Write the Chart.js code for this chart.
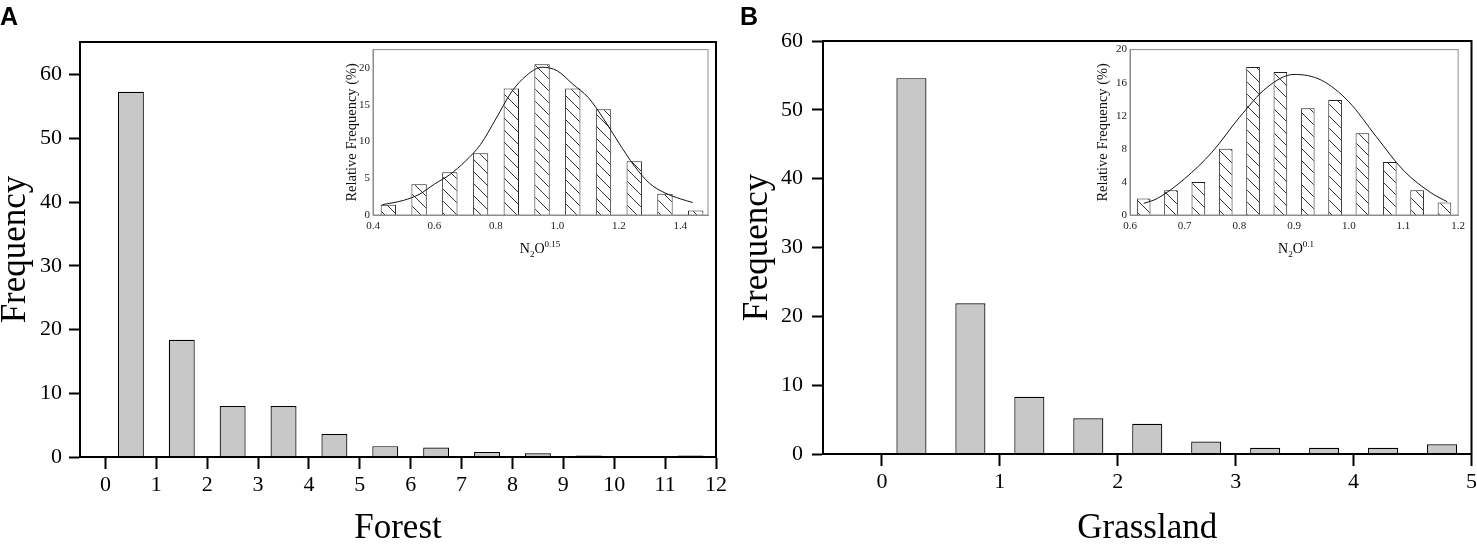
<!DOCTYPE html>
<html>
<head>
<meta charset="utf-8">
<script src="https://cdn.jsdelivr.net/npm/chart.js@4.4.1/dist/chart.umd.min.js"></script>
<style>
  html, body { margin: 0; padding: 0; background: #fff; }
  body { position: relative; width: 1477px; height: 544px; overflow: hidden; }
  .box { position: absolute; }
  .tag { position: absolute; top: 4px; font: bold 25px "Liberation Sans", Arial, sans-serif; line-height: 1; color: #000; }
  .ttl { position: absolute; width: 100px; text-align: center; font: 14px "Liberation Serif", serif; line-height: 20px; color: #000; }
  .ttl sub, .ttl sup { font-size: 9px; line-height: 0; }
</style>
</head>
<body>
<div class="box" style="left:0;top:0;width:730px;height:544px"><canvas id="forest" width="730" height="544"></canvas></div>
<div class="box" style="left:740px;top:0;width:740px;height:544px"><canvas id="grass" width="740" height="544"></canvas></div>
<div class="box" style="left:330px;top:40px;width:385px;height:200px"><canvas id="forestInset" width="385" height="200"></canvas></div>
<div class="box" style="left:1085px;top:40px;width:385px;height:200px"><canvas id="grassInset" width="385" height="200"></canvas></div>
<div class="tag" style="left:0">A</div>
<div class="tag" style="left:740px">B</div>
<div class="ttl" style="left:490px;top:239px">N<sub>2</sub>O<sup>0.15</sup></div>
<div class="ttl" style="left:1246px;top:239px">N<sub>2</sub>O<sup>0.1</sup></div>
<script>
// Forest main histogram
const forestBins = [0.5, 1.5, 2.5, 3.5, 4.5, 5.5, 6.5, 7.5, 8.5, 9.5, 10.5, 11.5];
const forestFreq = [57.3, 18.4, 8.0, 8.0, 3.6, 1.7, 1.5, 0.8, 0.6, 0.25, 0, 0.25];
const forestTicksX = [0, 1, 2, 3, 4, 5, 6, 7, 8, 9, 10, 11, 12];
const forestTicksY = [0, 10, 20, 30, 40, 50, 60];

// Grassland main histogram
const grassBins = [0.25, 0.75, 1.25, 1.75, 2.25, 2.75, 3.25, 3.75, 4.25, 4.75];
const grassFreq = [54.6, 21.9, 8.3, 5.2, 4.4, 1.8, 0.9, 0.9, 0.9, 1.4];
const grassTicksX = [0, 1, 2, 3, 4, 5];
const grassTicksY = [0, 10, 20, 30, 40, 50, 60];

// Forest inset (N2O^0.15)
const forestInsetBins = [0.45, 0.55, 0.65, 0.75, 0.85, 0.95, 1.05, 1.15, 1.25, 1.35, 1.45];
const forestInsetPct = [1.4, 4.2, 5.8, 8.4, 17.2, 20.5, 17.2, 14.4, 7.3, 2.9, 0.6];
const forestFitX = [0.43, 0.5, 0.55, 0.6, 0.65, 0.7, 0.75, 0.8, 0.85, 0.9, 0.95, 1.0, 1.05, 1.1, 1.15, 1.2, 1.25, 1.3, 1.35, 1.4, 1.44];
const forestFitY = [1.4, 2.0, 2.8, 4.2, 5.5, 7.3, 9.6, 13.1, 16.7, 19.0, 20.1, 19.6, 17.8, 16.0, 13.1, 9.8, 6.7, 4.3, 3.0, 2.2, 1.7];
const forestInsetTicksX = [0.4, 0.6, 0.8, 1.0, 1.2, 1.4];
const forestInsetTicksY = [0, 5, 10, 15, 20];

// Grassland inset (N2O^0.1)
const grassInsetBins = [0.625, 0.675, 0.725, 0.775, 0.825, 0.875, 0.925, 0.975, 1.025, 1.075, 1.125, 1.175];
const grassInsetPct = [2.0, 3.0, 4.0, 8.0, 17.9, 17.3, 12.9, 13.9, 9.9, 6.4, 3.0, 1.5];
const grassFitX = [0.625, 0.65, 0.7, 0.75, 0.8, 0.85, 0.9, 0.95, 1.0, 1.05, 1.1, 1.15, 1.18];
const grassFitY = [1.4, 2.0, 4.4, 7.6, 11.8, 15.4, 17.0, 16.3, 13.7, 9.5, 5.4, 2.7, 1.6];
const grassInsetTicksX = [0.6, 0.7, 0.8, 0.9, 1.0, 1.1, 1.2];
const grassInsetTicksY = [0, 4, 8, 12, 16, 20];

const SERIF = '"Liberation Serif", "Times New Roman", serif';

// box round the plot area
Chart.register({
  id: 'frame',
  afterDraw(chart, args, opts) {
    const { ctx, chartArea: a } = chart;
    ctx.save();
    ctx.strokeStyle = opts.color || '#000';
    ctx.lineWidth = opts.width || 1;
    ctx.strokeRect(a.left, a.top, a.right - a.left, a.bottom - a.top);
    ctx.restore();
  }
});

function points(xs, ys) {
  return xs.map((x, i) => ({ x: x, y: ys[i] }));
}

function setTicks(list) {
  return scale => { scale.ticks = list.map(v => ({ value: v })); };
}

// "\\\" hatch fill for the inset bars
function hatch() {
  const n = 12;
  const c = document.createElement('canvas');
  c.width = n; c.height = n;
  const g = c.getContext('2d');
  g.fillStyle = '#fff';
  g.fillRect(0, 0, n, n);
  g.strokeStyle = '#333';
  g.lineWidth = 1;
  g.beginPath();
  g.moveTo(0, 0); g.lineTo(n, n);
  g.moveTo(-n / 2, n / 2); g.lineTo(n / 2, n * 1.5);
  g.moveTo(n / 2, -n / 2); g.lineTo(n * 1.5, n / 2);
  g.stroke();
  return g.createPattern(c, 'repeat');
}

function mainChart(id, bins, freq, ticksX, ticksY, xMin, xMax, yMax, title, g) {
  return new Chart(document.getElementById(id), {
    type: 'bar',
    data: {
      datasets: [{
        data: points(bins, freq),
        backgroundColor: '#c8c8c8',
        borderColor: '#000',
        borderWidth: 1.2,
        barPercentage: 0.51,
        categoryPercentage: 1
      }]
    },
    options: {
      responsive: false,
      animation: false,
      layout: { padding: { left: 0, top: g.top, right: g.right, bottom: 0 } },
      plugins: { legend: { display: false }, tooltip: { enabled: false }, frame: { color: '#000', width: 2 } },
      scales: {
        x: {
          type: 'linear', min: xMin, max: xMax, offset: false,
          afterBuildTicks: setTicks(ticksX),
          afterFit: s => { s.height = g.xh; },
          grid: { offset: false, drawOnChartArea: false, tickLength: 12, tickWidth: 2, tickColor: '#000' },
          border: { color: '#000', width: 2 },
          ticks: { color: '#000', padding: 3, maxRotation: 0, font: { family: SERIF, size: 22 } },
          title: { display: true, text: title, color: '#000', padding: { top: 0, bottom: -2 }, font: { family: SERIF, size: 35, lineHeight: 1 } }
        },
        y: {
          min: 0, max: yMax,
          afterBuildTicks: setTicks(ticksY),
          afterFit: s => { s.width = g.yw; },
          grid: { drawOnChartArea: false, tickLength: 11, tickWidth: 2, tickColor: '#000' },
          border: { color: '#000', width: 2 },
          ticks: { color: '#000', padding: g.ypad, font: { family: SERIF, size: 22 } },
          title: { display: true, text: 'Frequency', color: '#000', padding: { top: g.ytitle - 17.5, bottom: 0 }, font: { family: SERIF, size: 35, lineHeight: 1 } }
        }
      }
    }
  });
}

function insetChart(id, bins, pct, fitX, fitY, ticksX, ticksY, xMin, xMax, yMax, g) {
  return new Chart(document.getElementById(id), {
    type: 'bar',
    data: {
      datasets: [{
        type: 'line',
        data: points(fitX, fitY),
        borderColor: '#111',
        borderWidth: 1,
        pointRadius: 0,
        cubicInterpolationMode: 'monotone'
      }, {
        data: points(bins, pct),
        backgroundColor: hatch(),
        borderColor: '#222',
        borderWidth: 1,
        barPercentage: 0.5,
        categoryPercentage: 1
      }]
    },
    options: {
      responsive: false,
      animation: false,
      layout: { padding: { left: 0, top: 9, right: g.right, bottom: 0 } },
      plugins: { legend: { display: false }, tooltip: { enabled: false }, frame: { color: '#8c8c8c', width: 1 } },
      scales: {
        x: {
          type: 'linear', min: xMin, max: xMax, offset: false,
          afterBuildTicks: setTicks(ticksX),
          afterFit: s => { s.height = 25; },
          grid: { display: false, drawTicks: false, offset: false },
          border: { color: '#8c8c8c', width: 1 },
          ticks: { color: '#222', padding: 5, maxRotation: 0, font: { family: SERIF, size: 11 }, callback: v => v.toFixed(1) }
        },
        y: {
          min: 0, max: yMax,
          afterBuildTicks: setTicks(ticksY),
          afterFit: s => { s.width = g.yw; },
          grid: { display: false, drawTicks: false },
          border: { color: '#8c8c8c', width: 1 },
          ticks: { color: '#222', padding: 3, font: { family: SERIF, size: 11 } },
          title: { display: true, text: 'Relative Frequency (%)', color: '#111', padding: { top: g.ytitle - 8.7, bottom: 0 }, font: { family: SERIF, size: 14.5 } }
        }
      }
    }
  });
}

mainChart('forest', forestBins, forestFreq, forestTicksX, forestTicksY, -0.5, 12, 65.1, 'Forest',
  { top: 42, right: 13, xh: 87, yw: 80, ypad: 7, ytitle: 15.5 });
mainChart('grass', grassBins, grassFreq, grassTicksX, grassTicksY, -0.5, 5, 60, 'Grassland',
  { top: 41, right: 7, xh: 90, yw: 83, ypad: 9, ytitle: 17.5 });
insetChart('forestInset', forestInsetBins, forestInsetPct, forestFitX, forestFitY, forestInsetTicksX, forestInsetTicksY, 0.4, 1.49, 22.5,
  { right: 7, yw: 43, ytitle: 22 });
insetChart('grassInset', grassInsetBins, grassInsetPct, grassFitX, grassFitY, grassInsetTicksX, grassInsetTicksY, 0.6, 1.2, 20,
  { right: 8, yw: 45, ytitle: 18.5 });
</script>
</body>
</html>
